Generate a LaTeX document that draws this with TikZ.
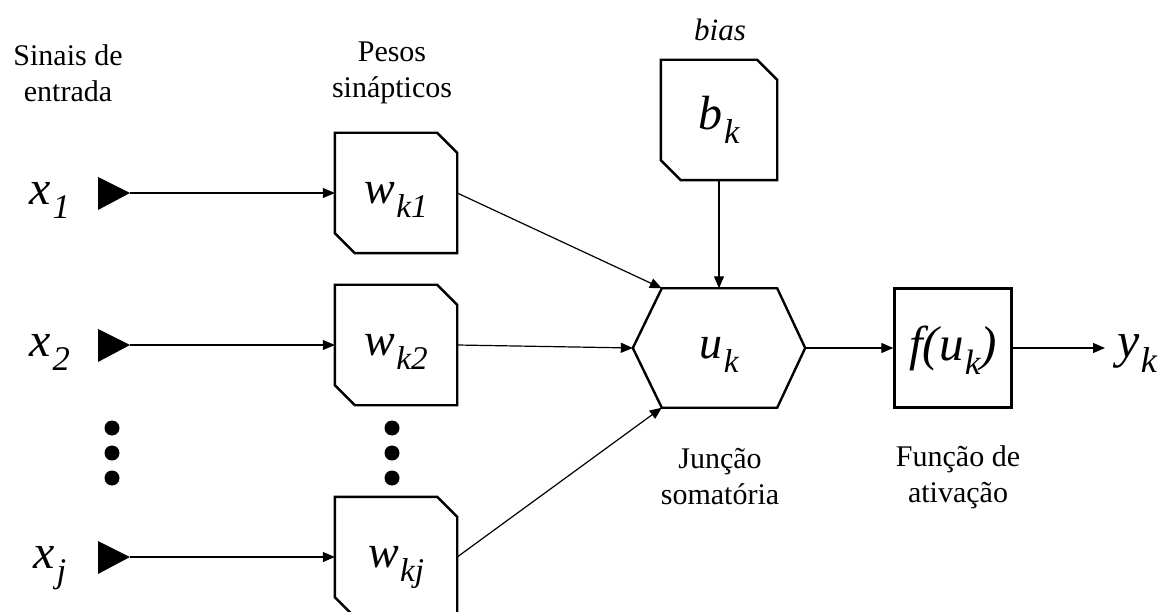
\documentclass[tikz,border=0pt]{standalone}
\usepackage{fontspec}
\setmainfont{Liberation Serif}
\usepackage{tikz}
\usetikzlibrary{arrows.meta}

% variavel com indice (x_1, w_k1, ...)
\newcommand{\var}[2]{\textit{#1\kern0.03em\raisebox{-0.3em}[0pt][0pt]{\scalebox{0.72}{#2}}}}
% contorno do bloco com cantos chanfrados
\newcommand{\chanfro}[1]{\draw[contorno] (#1.north west) -- ([xshift=-20pt]#1.north east) -- ([yshift=-20pt]#1.north east) -- (#1.south east) -- ([xshift=20pt]#1.south west) -- ([yshift=20pt]#1.south west) -- cycle;}

\tikzset{
    contorno/.style={line width=2.4pt, line join=miter},
    bloco/.style={minimum width=122pt, minimum height=120pt, inner sep=0pt, font=\fontsize{46}{50}\selectfont},
    rotulo/.style={align=center, font=\fontsize{30}{36}\selectfont},
    seta/.style={draw, line width=1.2pt, -{Triangle[length=12pt,width=10pt]}},
    ponto/.style={circle, fill, inner sep=0pt, minimum size=15pt}
}

\begin{document}
\begin{tikzpicture}[x=1pt,y=-1pt]
    \useasboundingbox (0,0) rectangle (1165,612);

    % Titulos
    \node[rotulo] (tsinais) at (68,73) {Sinais de\\entrada};
    \node[rotulo] (tpesos) at (392,73) {Pesos\\sinápticos};
    \node[rotulo, font=\fontsize{31}{36}\selectfont\itshape] (tbias) at (720,30) {bias};

    % Entradas e pesos sinapticos
    \foreach \i/\y in {1/193, 2/345, j/557} {
        \node[bloco, font=\fontsize{48}{50}\selectfont] (x\i) at (50,\y) {\var{x}{\i}};
        \coordinate (e\i) at (130,\y);
        \fill ([xshift=-32pt,yshift=16pt]e\i) -- (e\i) -- ([xshift=-32pt,yshift=-17pt]e\i) -- cycle;
        \node[bloco] (w\i) at (396,\y) {\var{w}{k\i}};
        \chanfro{w\i}
        \draw[seta] (e\i) -- (w\i.west);
    }

    % Reticencias
    \foreach \y in {428,453,478} {
        \node[ponto] (px\y) at (112,\y) {};
        \node[ponto] (pw\y) at (392,\y) {};
    }

    % Bias
    \node[bloco, minimum width=116pt, font=\fontsize{48}{50}\selectfont] (bias) at (719,120) {};
    \node[font=\fontsize{48}{50}\selectfont, inner sep=0pt] (bk) at (719,113) {\var{b}{k}};
    \chanfro{bias}

    % Juncao somatoria
    \node[bloco, minimum width=172pt, minimum height=119pt] (soma) at (719,348) {\var{u}{k}};
    \draw[contorno] (soma.west) -- ([xshift=29pt]soma.north west) -- ([xshift=-28pt]soma.north east) -- (soma.east) -- ([xshift=-28pt]soma.south east) -- ([xshift=29pt]soma.south west) -- cycle;

    % Funcao de ativacao
    \node[bloco, draw, contorno, minimum width=117pt, minimum height=119pt, font=\fontsize{49}{50}\selectfont] (ativ) at (953,348) {\textit{f(\var{u}{k})}};
    \node[anchor=west, inner sep=0pt, font=\fontsize{50}{50}\selectfont] (yk) at (1117,351) {\var{y}{k}};

    \node[rotulo] (tsoma) at (720,477) {Junção\\somatória};
    \node[rotulo] (tativ) at (958,477) {Função de\\ativação};

    % Ligacoes
    \draw[seta] (w1.east) -- ([xshift=29pt]soma.north west);
    \draw[seta] (w2.east) -- (soma.west);
    \draw[seta] (wj.east) -- ([xshift=29pt]soma.south west);
    \draw[seta] (bias.south) -- (soma.north);
    \draw[seta] (soma.east) -- (ativ.west);
    \draw[seta] (ativ.east) -- ([xshift=-12pt]ativ.east -| yk.west);
\end{tikzpicture}
\end{document}
